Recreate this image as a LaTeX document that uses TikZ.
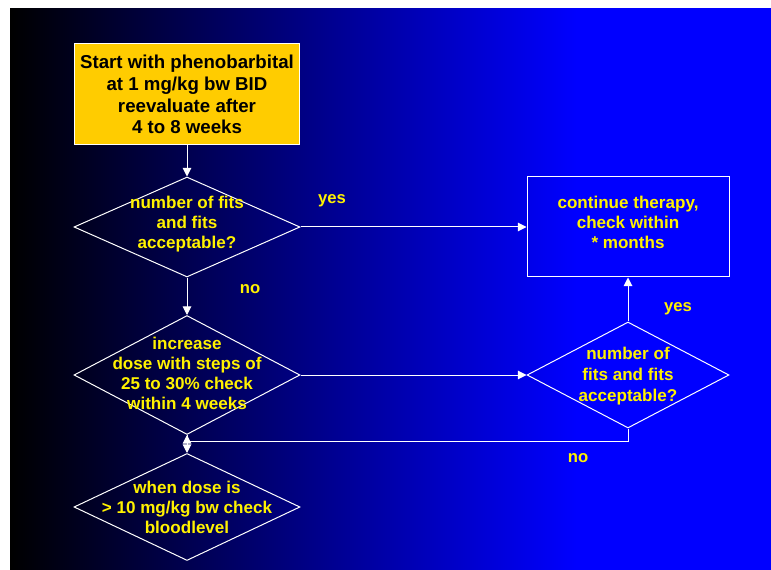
\documentclass[tikz,border=0pt]{standalone}
\usepackage{fontspec}
\setmainfont{Liberation Sans}
\usetikzlibrary{arrows.meta,shapes.geometric}
\definecolor{startfill}{HTML}{FFCC00}
\pgfdeclarehorizontalshading{bgfade}{100bp}{color(0bp)=(black); color(25bp)=(black);
  color(62bp)=(blue); color(100bp)=(blue)}

\begin{document}
\begin{tikzpicture}[x=0.75pt,y=-0.75pt,
  dia/.style={diamond, draw=white, line width=0.75pt, inner sep=0pt,
              minimum width=169.5pt},
  box/.style={draw=white, line width=0.75pt, inner sep=0pt, align=center},
  txt/.style={text=yellow, font=\fontsize{12.8}{15}\selectfont\bfseries,
              align=center, inner sep=0pt},
  lab/.style={text=yellow, font=\fontsize{12.5}{15}\selectfont\bfseries,
              inner sep=0pt},
  arr/.style={-{Triangle[length=6.5pt,width=6.5pt]}, draw=white, line width=0.75pt}]
\useasboundingbox (0,0) rectangle (771,570);
\shade[shading=bgfade] (10,9) rectangle (776,575);
% ---- left column ----
\node[box, fill=startfill, minimum width=168.75pt, minimum height=75.75pt,
      font=\fontsize{14}{16.3}\selectfont\bfseries] (start) at (187,94.5)
  {Start with phenobarbital\\at 1 mg/kg bw BID\\reevaluate after\\4 to 8 weeks};
\node[dia, minimum height=75pt] (q1) at (187,227) {};
\node[txt] (q1t) at (187,224) {number of fits\\and fits\\acceptable?};
\node[dia, minimum height=89.25pt] (inc) at (187,375) {};
\node[txt] (inct) at (187,373)
  {increase\\dose with steps of\\25 to 30\% check\\within 4 weeks};
\node[dia, minimum height=80.25pt] (dose) at (187,507) {};
\node[txt] (doset) at (187,507) {when dose is\\> 10 mg/kg bw check\\bloodlevel};
% ---- right column ----
\node[box, minimum width=151.5pt, minimum height=75pt] (cont) at (628,227) {};
\node[txt] (contt) at (628,222) {continue therapy,\\check within\\* months};
\node[dia, minimum width=151.5pt, minimum height=79.5pt] (q2) at (628,375) {};
\node[txt, font=\fontsize{12.8}{15.75}\selectfont\bfseries] (q2t) at (628,376)
  {number of\\fits and fits\\acceptable?};
% ---- labels ----
\node[lab] (yes1) at (332,201) {yes};
\node[lab] (no1)  at (250,289) {no};
\node[lab] (yes2) at (678,309) {yes};
\node[lab] (no2)  at (578,458) {no};
% ---- connectors ----
\draw[arr] (start) -- (q1);
\draw[arr] (q1) -- (cont);
\draw[arr] (q1) -- (inc);
\draw[arr] (inc) -- (q2);
\draw[arr] (q2) -- (cont);
\draw[arr] (inc) -- (dose);
\draw[arr] (q2.south) -- ++(0,13) -| (inc.south);
\end{tikzpicture}
\end{document}
